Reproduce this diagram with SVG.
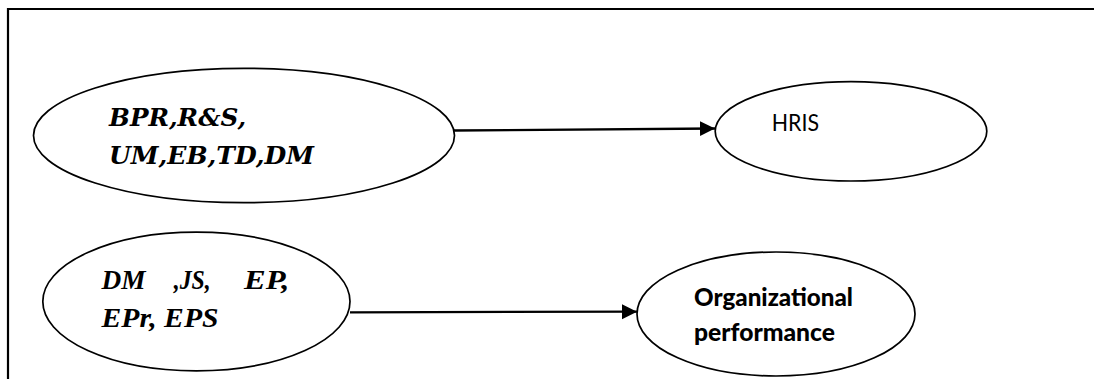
<svg xmlns="http://www.w3.org/2000/svg" width="1094" height="379" viewBox="0 0 1094 379">
<style>
.node ellipse{fill:#fff;stroke:#000;stroke-width:1.7}
.mathbi{font-family:"DejaVu Serif","Liberation Serif",serif;font-weight:bold;font-style:italic;font-size:24px;fill:#000}
.timesbi{font-family:"Liberation Serif","Times New Roman",serif;font-weight:bold;font-style:italic;font-size:27px;fill:#000}
.sans{font-family:Lato,"Open Sans","Liberation Sans",sans-serif;font-size:24px;fill:#000}
.sansb{font-family:Lato,"Open Sans","Liberation Sans",sans-serif;font-weight:900;font-size:24.5px;fill:#000}
.conn line{stroke:#000;stroke-width:2.3}
.frame{stroke:#000;stroke-width:2.2;fill:none}
</style>
<defs>
<marker id="arrow" markerUnits="userSpaceOnUse" markerWidth="16" markerHeight="16" refX="15" refY="7.5" orient="auto">
<path d="M0,0 L15,7.5 L0,15 Z" fill="#000"/>
</marker>
</defs>
<rect width="1094" height="379" fill="#fff"/>
<g id="frame">
<path class="frame" d="M8,379 L8,9 L1094,9"/>
</g>
<g id="connectors" class="conn">
<line x1="454" y1="130.5" x2="715" y2="128.5" marker-end="url(#arrow)"/>
<line x1="350" y1="312.3" x2="637" y2="311.7" marker-end="url(#arrow)"/>
</g>
<g id="node-inputs1" class="node">
<ellipse cx="244" cy="135.5" rx="210.5" ry="67.2"/>
<text class="mathbi" x="109" y="125.5" textLength="137" lengthAdjust="spacingAndGlyphs">BPR,R&amp;S,</text>
<text class="mathbi" x="109" y="163.8" textLength="205" lengthAdjust="spacingAndGlyphs">UM,EB,TD,DM</text>
</g>
<g id="node-inputs2" class="node">
<ellipse cx="196.4" cy="301.5" rx="153.6" ry="69.3"/>
<text class="timesbi" y="288.5"><tspan x="101.5" textLength="44" lengthAdjust="spacingAndGlyphs">DM</tspan><tspan x="173.7" textLength="37" lengthAdjust="spacingAndGlyphs">,JS,</tspan><tspan x="244" textLength="45.5" lengthAdjust="spacingAndGlyphs">EP,</tspan></text>
<text class="timesbi" x="101.5" y="327" textLength="117" lengthAdjust="spacingAndGlyphs">EPr, EPS</text>
</g>
<g id="node-hris" class="node">
<ellipse cx="851" cy="131.3" rx="135.8" ry="49.7"/>
<text class="sans" x="771.7" y="130.5" textLength="47.3" lengthAdjust="spacingAndGlyphs">HRIS</text>
</g>
<g id="node-orgperf" class="node">
<ellipse cx="776" cy="314" rx="139" ry="62"/>
<text class="sansb" x="694" y="305.5" textLength="159" lengthAdjust="spacingAndGlyphs">Organizational</text>
<text class="sansb" x="694" y="340.5" textLength="141" lengthAdjust="spacingAndGlyphs">performance</text>
</g>
</svg>
